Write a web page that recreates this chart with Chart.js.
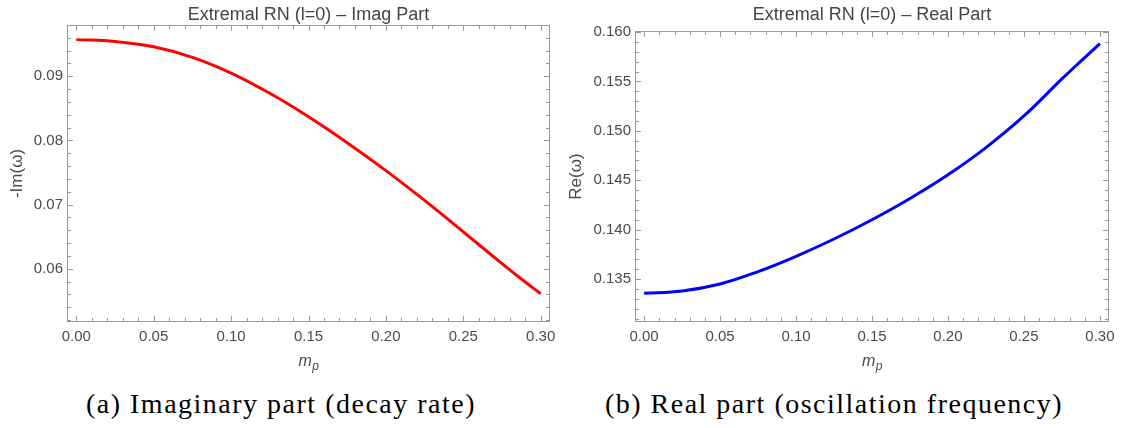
<!DOCTYPE html>
<html>
<head>
<meta charset="utf-8">
<script src="https://cdn.jsdelivr.net/npm/chart.js@4.4.1/dist/chart.umd.min.js"></script>
<style>
  body { margin: 0; background: #fff; width: 1122px; height: 428px; overflow: hidden; position: relative; }
  .panel { position: absolute; top: 0; }
  .caption {
    position: absolute; top: 389px; line-height: 30px;
    font-family: "Liberation Serif", "Times New Roman", serif; font-size: 28px;
    letter-spacing: 1.5px; color: #000; white-space: nowrap; transform: translateX(-50%);
  }
</style>
</head>
<body>
<div class="panel" style="left:0"><canvas id="imagChart" width="561" height="380"></canvas></div>
<div class="panel" style="left:561px"><canvas id="realChart" width="561" height="380"></canvas></div>
<div class="caption" style="left:281px">(a) Imaginary part (decay rate)</div>
<div class="caption" style="left:834px">(b) Real part (oscillation frequency)</div>

<script>
// Values
const mpValues   = [0, 0.025, 0.05, 0.075, 0.1, 0.125, 0.15, 0.175, 0.2, 0.225, 0.25, 0.275, 0.2875, 0.3];
const imagValues = [0.09572, 0.09544, 0.09460, 0.09295, 0.09050, 0.08735, 0.08370, 0.07965, 0.07530, 0.07065, 0.06575, 0.06080, 0.05840, 0.05610];
const realValues = [0.13355, 0.13379, 0.13450, 0.13575, 0.13730, 0.13905, 0.14100, 0.14315, 0.14555, 0.14830, 0.15150, 0.15525, 0.15705, 0.15882];

// Tick labels
const xTicks    = [0, 0.05, 0.1, 0.15, 0.2, 0.25, 0.3];
const imagTicks = [0.06, 0.07, 0.08, 0.09];
const realTicks = [0.135, 0.14, 0.145, 0.15, 0.155, 0.16];

const sans = '"Liberation Sans", Arial, sans-serif';
const textColor = '#4a4a4a';
const frameColor = '#999';

function stepValues(scale, step) {
    const out = [];
    for (let i = Math.ceil(scale.min / step - 1e-9); i * step <= scale.max + 1e-9; i++) {
        out.push(i * step);
    }
    return out;
}

// Mathematica-style frame with inward ticks on all four sides, plus the m_p label
const frameTicks = {
    id: 'frameTicks',
    afterDatasetsDraw(chart, args, opts) {
        const { ctx, chartArea: a, scales: { x, y } } = chart;
        ctx.save();
        ctx.strokeStyle = frameColor;
        ctx.lineWidth = 1;
        ctx.strokeRect(Math.round(a.left) + 0.5, Math.round(a.top) + 0.5,
            Math.round(a.right - a.left) - 1, Math.round(a.bottom - a.top) - 1);

        const drawX = (v, len) => {
            const px = Math.round(x.getPixelForValue(v)) + 0.5;
            ctx.beginPath();
            ctx.moveTo(px, a.bottom); ctx.lineTo(px, a.bottom - len);
            ctx.moveTo(px, a.top); ctx.lineTo(px, a.top + len);
            ctx.stroke();
        };
        const drawY = (v, len) => {
            const py = Math.round(y.getPixelForValue(v)) + 0.5;
            ctx.beginPath();
            ctx.moveTo(a.left, py); ctx.lineTo(a.left + len, py);
            ctx.moveTo(a.right, py); ctx.lineTo(a.right - len, py);
            ctx.stroke();
        };
        stepValues(x, opts.xMinor).forEach(v => drawX(v, 4));
        x.ticks.forEach(t => drawX(t.value, 6));
        stepValues(y, opts.yMinor).forEach(v => drawY(v, 4));
        y.ticks.forEach(t => drawY(t.value, 6));

        // x axis title: italic m with subscript p
        const cx = (a.left + a.right) / 2;
        const cy = a.bottom + 40;
        ctx.fillStyle = textColor;
        ctx.textBaseline = 'middle';
        ctx.font = 'italic 16px ' + sans;
        const mw = ctx.measureText('m').width;
        ctx.font = 'italic 12px ' + sans;
        const pw = ctx.measureText('p').width;
        const left = cx - (mw + pw) / 2;
        ctx.font = 'italic 16px ' + sans;
        ctx.fillText('m', left, cy);
        ctx.font = 'italic 12px ' + sans;
        ctx.fillText('p', left + mw + 0.5, cy + 5);
        ctx.restore();
    }
};

function makeChart(id, cfg) {
    return new Chart(document.getElementById(id), {
        type: 'line',
        data: {
            datasets: [{
                data: mpValues.map((m, i) => ({ x: m, y: cfg.values[i] })),
                borderColor: cfg.color,
                borderWidth: 3,
                pointRadius: 0,
                tension: 0.4,
                fill: false
            }]
        },
        options: {
            responsive: false,
            animation: false,
            layout: { padding: { left: 0, right: cfg.padRight, top: 0, bottom: 0 } },
            plugins: {
                legend: { display: false },
                tooltip: { enabled: false },
                title: {
                    display: true,
                    fullSize: false,
                    text: cfg.title,
                    color: '#444',
                    font: { family: sans, size: 18, weight: 'normal', lineHeight: 1 },
                    padding: { top: 6, bottom: cfg.titleGap }
                },
                frameTicks: { xMinor: 0.01, yMinor: cfg.yMinor }
            },
            scales: {
                x: {
                    type: 'linear',
                    min: -0.006,
                    max: 0.306,
                    grid: { display: false, drawTicks: false },
                    border: { display: false },
                    afterBuildTicks: s => { s.ticks = xTicks.map(v => ({ value: v })); },
                    afterFit: s => { s.height = 58; s.paddingLeft = 0; s.paddingRight = 0; },
                    ticks: {
                        padding: 6, color: textColor, autoSkip: false, maxRotation: 0,
                        font: { family: sans, size: 15 },
                        callback: v => v.toFixed(2)
                    }
                },
                y: {
                    type: 'linear',
                    min: cfg.yMin,
                    max: cfg.yMax,
                    grid: { display: false, drawTicks: false },
                    border: { display: false },
                    afterBuildTicks: s => { s.ticks = cfg.ticks.map(v => ({ value: v })); },
                    afterFit: s => { s.width = cfg.axisWidth; s.paddingTop = 0; s.paddingBottom = 0; },
                    ticks: {
                        padding: 4, color: textColor, autoSkip: false,
                        font: { family: sans, size: 15 },
                        callback: v => v.toFixed(cfg.decimals)
                    },
                    title: {
                        display: true,
                        text: cfg.yLabel,
                        color: textColor,
                        font: { family: sans, size: 17 },
                        padding: { top: cfg.yTitlePad, bottom: 0 }
                    }
                }
            }
        },
        plugins: [frameTicks]
    });
}

makeChart('imagChart', {
    values: imagValues,
    color: '#ff0000',
    title: 'Extremal RN (l=0) \u2013 Imag Part',
    titleGap: 1,
    padRight: 11,
    axisWidth: 67,
    yMin: 0.0517,
    yMax: 0.0980,
    yMinor: 0.002,
    ticks: imagTicks,
    decimals: 2,
    yLabel: '-Im(\u03c9)',
    yTitlePad: 7
});

makeChart('realChart', {
    values: realValues,
    color: '#0000ff',
    title: 'Extremal RN (l=0) \u2013 Real Part',
    titleGap: 7,
    padRight: 13,
    axisWidth: 74,
    yMin: 0.13065,
    yMax: 0.1601,
    yMinor: 0.001,
    ticks: realTicks,
    decimals: 3,
    yLabel: 'Re(\u03c9)',
    yTitlePad: 5
});
</script>
</body>
</html>
